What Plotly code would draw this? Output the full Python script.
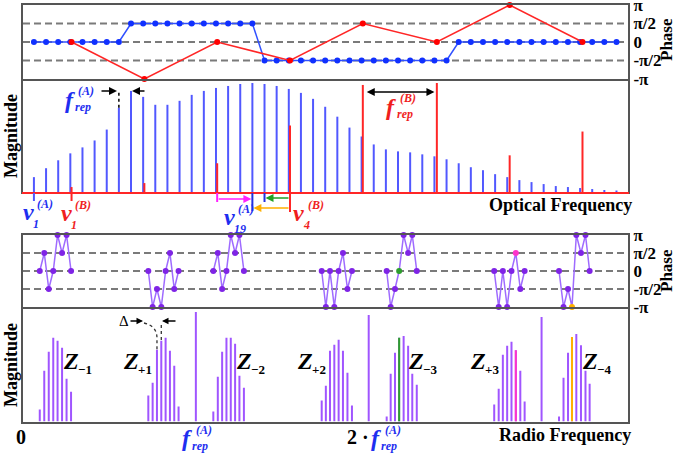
import numpy as np
import plotly.graph_objects as go

PI = np.pi
W, H = 676, 453
SERIF = "Liberation Serif, Times New Roman, serif"

# ---------------- data ----------------
# Optical comb A (blue): line index, magnitude, phase (units of pi/2)
comb_a_n = list(range(1, 50))
comb_a_mag = [15, 24, 32, 39, 45, 52, 63, 85, 102, 96, 88, 88, 92, 98, 102, 105, 107, 109, 110,
              109, 107, 104, 100, 94, 86, 76, 65, 56, 48, 43, 41, 40, 38, 36, 33,
              29, 25, 22, 18, 15, 12, 10, 8, 6, 5, 4, 3, 2, 1.5]
comb_a_phase_hp = [0, 0, 0, 0, 0, 0, 0, 0,
                   1, 1, 1, 1, 1, 1, 1, 1, 1, 1, 1,
                   -1, -1, -1, -1, -1, -1, -1, -1, -1, -1, -1, -1, -1, -1, -1, -1,
                   0, 0, 0, 0, 0, 0, 0, 0, 0, 0, 0, 0, 0, 0]

# Optical comb B (red)
comb_b_n = [4.1, 10.1, 16.1, 22.1, 28.1, 34.2, 40.2, 46.2]
comb_b_mag = [5, 9, 29, 67, 108, 110, 37, 61]
comb_b_phase_hp = [0, -2, 0, -1, 1, 0, 2, 0]

# Radio-frequency beat groups (frequency in units of f_rep^(A))
rf_group_labels = ["−1", "+1", "−2", "+2", "−3", "+3", "−4"]
rf_freq = [
    [0.097, 0.123, 0.149, 0.175, 0.200, 0.226, 0.252, 0.278],
    [0.725, 0.750, 0.775, 0.800, 0.825, 0.850, 0.875, 0.900],
    [1.101, 1.127, 1.152, 1.177, 1.202, 1.227, 1.252, 1.278],
    [1.728, 1.752, 1.776, 1.801, 1.826, 1.851, 1.877, 1.903],
    [2.104, 2.127, 2.152, 2.176, 2.202, 2.228, 2.252, 2.278],
    [2.726, 2.752, 2.776, 2.801, 2.826, 2.851, 2.877, 2.902],
    [3.101, 3.127, 3.153, 3.176, 3.201, 3.228, 3.254, 3.278],
]
rf_mag = [
    [12, 51, 70, 84, 81, 74, 43, 30],
    [26, 39, 72, 81, 84, 71, 56, 15],
    [10, 45, 70, 84, 84, 78, 46, 34],
    [21, 36, 71, 77, 82, 71, 49, 16],
    [5, 48, 69, 84, 86, 76, 48, 37],
    [17, 33, 67, 76, 80, 71.5, 51, 20],
    [5, 44, 69, 85, 88, 76.5, 51, 38],
]
rf_phase_hp = [
    [0, 1, -1, 0, 2, 1, 2, 0],
    [0, -2, -1, -2, 0, 1, -1, 0],
    [0, 1, -1, 0, 2, 1, 2, 0],
    [0, -2, 0, -2, 0, 1, -1, 0],
    [0, -2, -1, 0, 2, 1, 2, 0],
    [0, -2, 0, -2, 0, 1, -1, 0],
    [0, -2, -1, -2, 2, 1, 2, 0],
]
rf_frep_freq = [1.0, 2.0, 3.0]
rf_frep_mag = [110, 107, 105]
# (group index, line index, colour)
rf_highlight = [(4, 3, "#2E9E2E"), (5, 5, "#FF33CC"), (6, 3, "#FFB000")]

# ---------------- layout geometry ----------------
PLOT_L, PLOT_R = 23, 628
PH1 = (5, 79)
MAG1 = (81, 192)
PH2 = (235, 307)
MAG2 = (309, 421.5)
OPT_RANGE = [0.1, 49.95]
RF_RANGE = [0.0, 3.5]
MAG1_RANGE = [0, 112]
MAG2_RANGE = [0, 113]
PH_RANGE = [-PI, PI]

BLUE_LINE = "#5158FF"
BLUE_DOT = "#1030FF"
RED = "#FF2626"
PURPLE_LINE = "#A055FF"
PURPLE_DOT = "#7F24E6"
LABEL_BLUE = "#1E2EF0"
LABEL_RED = "#F01E1E"
FRAME = "#555555"


def ydom(p):
    return [1 - p[1] / H, 1 - p[0] / H]


XDOM = [PLOT_L / W, PLOT_R / W]


def opt_px(n):
    return PLOT_L + (n - OPT_RANGE[0]) / (OPT_RANGE[1] - OPT_RANGE[0]) * (PLOT_R - PLOT_L)


def rf_px(f):
    return PLOT_L + (f - RF_RANGE[0]) / (RF_RANGE[1] - RF_RANGE[0]) * (PLOT_R - PLOT_L)


def stems(xs, hs):
    X, Y = [], []
    for x, h in zip(xs, hs):
        X += [x, x, None]
        Y += [0, h, None]
    return X, Y


fig = go.Figure()

# ---- phase panel 1 ----
fig.add_trace(go.Scatter(x=comb_a_n, y=[p * PI / 2 for p in comb_a_phase_hp], mode="lines+markers",
                         line=dict(color="#3050FF", width=1.5), marker=dict(color=BLUE_DOT, size=6),
                         xaxis="x", yaxis="y", cliponaxis=False))
fig.add_trace(go.Scatter(x=comb_b_n, y=[p * PI / 2 for p in comb_b_phase_hp], mode="lines+markers",
                         line=dict(color=RED, width=1.5), marker=dict(color="#FF0000", size=6),
                         xaxis="x", yaxis="y", cliponaxis=False))

# ---- magnitude panel 1 ----
X, Y = stems(comb_a_n, comb_a_mag)
fig.add_trace(go.Scatter(x=X, y=Y, mode="lines", line=dict(color=BLUE_LINE, width=2),
                         xaxis="x2", yaxis="y2"))
X, Y = stems(comb_b_n, comb_b_mag)
fig.add_trace(go.Scatter(x=X, y=Y, mode="lines", line=dict(color=RED, width=2),
                         xaxis="x2", yaxis="y2"))

# ---- phase panel 2 ----
px_, py_, pc_ = [], [], []
for g in range(len(rf_freq)):
    for i, (f, p) in enumerate(zip(rf_freq[g], rf_phase_hp[g])):
        px_.append(f)
        py_.append(p * PI / 2)
        col = PURPLE_DOT
        for hg, hi, hc in rf_highlight:
            if hg == g and hi == i:
                col = hc
        pc_.append(col)
    px_.append(None)
    py_.append(None)
    pc_.append(PURPLE_DOT)
fig.add_trace(go.Scatter(x=px_, y=py_, mode="lines+markers", line=dict(color="#9F6BFF", width=1.5),
                         marker=dict(color=pc_, size=6), xaxis="x3", yaxis="y3", cliponaxis=False))

# ---- magnitude panel 2 ----
all_f = [f for grp in rf_freq for f in grp] + rf_frep_freq
all_m = [m for grp in rf_mag for m in grp] + rf_frep_mag
X, Y = stems(all_f, all_m)
fig.add_trace(go.Scatter(x=X, y=Y, mode="lines", line=dict(color=PURPLE_LINE, width=2),
                         xaxis="x4", yaxis="y4"))
for hg, hi, hc in rf_highlight:
    X, Y = stems([rf_freq[hg][hi]], [rf_mag[hg][hi]])
    fig.add_trace(go.Scatter(x=X, y=Y, mode="lines", line=dict(color=hc, width=2),
                             xaxis="x4", yaxis="y4"))

# ---------------- axes ----------------
frame = dict(showline=True, mirror=True, linecolor=FRAME, linewidth=2, showgrid=False,
             zeroline=False, ticks="", automargin=False)
ph_ticks = dict(tickvals=[PI, PI / 2, 0, -PI / 2, -PI],
                ticktext=["<b>π</b>", "<b>π/2</b>", "<b>0</b>", "<b>-π/2</b>", "<b>-π</b>"],
                tickfont=dict(family=SERIF, size=17, color="black"), side="right",
                ticklabeloverflow="allow")

fig.update_layout(
    width=W, height=H, autosize=False, margin=dict(l=0, r=0, t=0, b=0, pad=0),
    paper_bgcolor="white", plot_bgcolor="white", showlegend=False,
    xaxis=dict(domain=XDOM, range=OPT_RANGE, anchor="y", showticklabels=False, **frame),
    yaxis=dict(domain=ydom(PH1), range=PH_RANGE, anchor="x", **ph_ticks, **frame),
    xaxis2=dict(domain=XDOM, range=OPT_RANGE, anchor="y2", showticklabels=False, **frame),
    yaxis2=dict(domain=ydom(MAG1), range=MAG1_RANGE, anchor="x2", showticklabels=False, **frame),
    xaxis3=dict(domain=XDOM, range=RF_RANGE, anchor="y3", showticklabels=False, **frame),
    yaxis3=dict(domain=ydom(PH2), range=PH_RANGE, anchor="x3", **ph_ticks, **frame),
    xaxis4=dict(domain=XDOM, range=RF_RANGE, anchor="y4", showticklabels=False, **frame),
    yaxis4=dict(domain=ydom(MAG2), range=MAG2_RANGE, anchor="x4", showticklabels=False, **frame),
)

shapes = []
# dashed phase reference lines
for yax in ["y", "y3"]:
    xax = "x" if yax == "y" else "x3"
    for v in [PI / 2, 0, -PI / 2]:
        shapes.append(dict(type="line", xref=f"{xax} domain", yref=yax, x0=0, x1=1, y0=v, y1=v,
                           line=dict(color="#7a7a7a", width=2, dash="7px,4px"), layer="below"))
# red baseline of optical magnitude panel
shapes.append(dict(type="line", xref="paper", yref="paper", x0=(PLOT_L - 1) / W, x1=(PLOT_R + 1) / W,
                   y0=1 - (MAG1[1] + 1) / H, y1=1 - (MAG1[1] + 1) / H, line=dict(color=RED, width=2)))
# dotted extension for f_rep^(A)
shapes.append(dict(type="line", xref="x2", yref="y2", x0=comb_a_n[7], x1=comb_a_n[7],
                   y0=comb_a_mag[7], y1=103, line=dict(color="black", width=1.5, dash="dot")))


def vmark(xpx, y0, y1, color):
    shapes.append(dict(type="line", xref="paper", yref="paper", x0=xpx / W, x1=xpx / W,
                       y0=1 - y0 / H, y1=1 - y1 / H, line=dict(color=color, width=2)))


vmark(opt_px(comb_a_n[0]), 193, 201, BLUE_LINE)
vmark(opt_px(comb_b_n[0]), 193, 201, RED)
vmark(opt_px(comb_b_n[2]), 193, 202, "#FF22FF")
vmark(opt_px(comb_a_n[18]), 193, 211, "#2030E0")
vmark(opt_px(comb_a_n[19]), 193, 202, "#2030E0")
vmark(opt_px(comb_b_n[3]), 193, 212, RED)

# dotted Delta guides
xa, xb = rf_px(rf_freq[1][2]), rf_px(rf_freq[1][3])
top_a = MAG2[1] - rf_mag[1][2] * (MAG2[1] - MAG2[0]) / MAG2_RANGE[1]
top_b = MAG2[1] - rf_mag[1][3] * (MAG2[1] - MAG2[0]) / MAG2_RANGE[1]


def P(x, y):
    return f"{x / W:.5f},{1 - y / H:.5f}"


shapes.append(dict(type="path", xref="paper", yref="paper",
                   path=f"M{P(144, 323)} Q{P(xa, 326)} {P(xa, 338)} L{P(xa, top_a)}",
                   line=dict(color="#333", width=1.3, dash="dot")))
shapes.append(dict(type="path", xref="paper", yref="paper",
                   path=f"M{P(xb, 325)} L{P(xb, top_b)}",
                   line=dict(color="#333", width=1.3, dash="dot")))
fig.update_layout(shapes=shapes)

ann = []


def txt(x, y, s, size, color="black", bold=True, italic=False, angle=0, xanchor="center"):
    t = s
    if italic:
        t = f"<i>{t}</i>"
    if bold:
        t = f"<b>{t}</b>"
    ann.append(dict(x=x / W, y=1 - y / H, xref="paper", yref="paper", text=t, showarrow=False,
                    font=dict(family=SERIF, size=size, color=color), xanchor=xanchor,
                    yanchor="middle", textangle=angle, borderpad=0))


def arrow(tx, ty, hx, hy, color, both=False, width=1.6):
    d = dict(x=hx / W, y=1 - hy / H, xref="paper", yref="paper", axref="pixel", ayref="pixel",
             ax=tx - hx, ay=ty - hy, text="", showarrow=True, arrowhead=2, arrowsize=1,
             arrowwidth=width, arrowcolor=color, standoff=0, startstandoff=0)
    if both:
        d.update(arrowside="end+start", startarrowhead=2, startarrowsize=1)
    ann.append(d)


def comp(main, sup, sub, x, y, color, msize=24, ssize=12, dx_sup=16, dy_sup=-8, dx_sub=12, dy_sub=8):
    txt(x, y, main, msize, color, italic=True)
    if sup:
        txt(x + dx_sup, y + dy_sup, sup, ssize, color, italic=True)
    if sub:
        txt(x + dx_sub, y + dy_sub, sub, ssize, color, italic=True)


# axis titles
txt(11, 136, "Magnitude", 18, angle=-90)
txt(11, 365, "Magnitude", 18, angle=-90)
txt(666, 40, "Phase", 17, angle=-90)
txt(666, 271, "Phase", 17, angle=-90)
txt(560, 205, "Optical Frequency", 18)
txt(565, 435, "Radio Frequency", 18)
txt(21, 437, "0", 20)

# optical panel labels
comp("f", "(A)", "rep", 70, 100, LABEL_BLUE, dx_sup=16, dy_sup=-9, dx_sub=13, dy_sub=7)
comp("f", "(B)", "rep", 391, 107, LABEL_RED, dx_sup=17, dy_sup=-9, dx_sub=14, dy_sub=7)
arrow(100, 91, 117, 91, "black")
arrow(146, 91, 132, 91, "black")
arrow(opt_px(28.3), 92, opt_px(34.0), 92, "black", both=True)

comp("ν", "(A)", "1", 28, 212, LABEL_BLUE, msize=24, dx_sup=17, dy_sup=-8, dx_sub=8, dy_sub=12)
comp("ν", "(B)", "1", 66, 213, LABEL_RED, msize=24, dx_sup=17, dy_sup=-8, dx_sub=8, dy_sub=12)
comp("ν", "(A)", "19", 229, 217, LABEL_BLUE, msize=24, dx_sup=17, dy_sup=-8, dx_sub=11, dy_sub=12)
comp("ν", "(B)", "4", 298, 213, LABEL_RED, msize=24, dx_sup=18, dy_sup=-8, dx_sub=8, dy_sub=12)

arrow(opt_px(comb_b_n[2]), 199, opt_px(comb_a_n[18]) - 1, 199, "#FF22FF")
arrow(opt_px(comb_b_n[3]), 198, opt_px(comb_a_n[19]) + 1, 198, "#22A022")
arrow(opt_px(comb_b_n[3]), 208, opt_px(comb_a_n[18]) + 1, 208, "#FFB000")

# RF panel labels
z_pos = [(71, 361), (131, 361), (244, 361), (305, 361), (416, 361), (478, 361), (590, 361)]
for (zx, zy), lab in zip(z_pos, rf_group_labels):
    txt(zx, zy, "Z", 24, italic=True)
    txt(zx + 14, zy + 8, lab, 13)

txt(124, 321, "Δ", 15, bold=False)
arrow(129, 321, 143, 321, "black", width=1.3)
arrow(177, 321, 162, 321, "black", width=1.3)

comp("f", "(A)", "rep", rf_px(rf_frep_freq[0]) - 9, 438, LABEL_BLUE, dx_sup=17, dy_sup=-8, dx_sub=13, dy_sub=8)
txt(358, 437, "2 ·", 20)
comp("f", "(A)", "rep", 376, 438, LABEL_BLUE, dx_sup=17, dy_sup=-8, dx_sub=13, dy_sub=8)

fig.update_layout(annotations=ann)
fig.write_html("out.html")
